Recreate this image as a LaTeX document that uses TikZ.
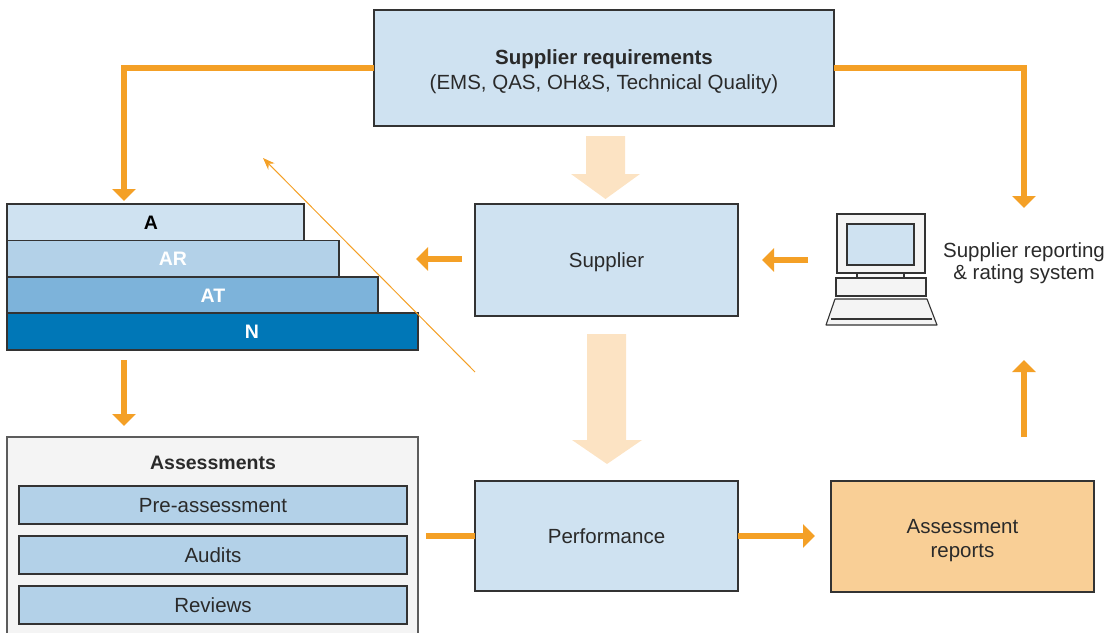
\documentclass[tikz,border=0pt]{standalone}
\usepackage{fontspec}
\setmainfont{Liberation Sans}
\usetikzlibrary{arrows.meta}
\definecolor{lb}{HTML}{CFE2F1}
\definecolor{mb}{HTML}{B3D1E8}
\definecolor{atb}{HTML}{7DB3DA}
\definecolor{nb}{HTML}{0077B7}
\definecolor{orng}{HTML}{F4A026}
\definecolor{palec}{HTML}{FCE3C3}
\definecolor{repc}{HTML}{F9CF96}
\definecolor{bgc}{HTML}{F4F4F4}
\definecolor{edge}{HTML}{333333}
\definecolor{txt}{HTML}{2A2A2A}
\begin{document}
\begin{tikzpicture}[x=1pt,y=-1pt,
 box/.style={draw=edge,line width=1.3pt,inner sep=0pt,outer sep=0pt,anchor=north west,text=txt,font=\fontsize{20.5}{24.5}\selectfont,align=center},
 sbox/.style={box,text height=14.8pt,text depth=0pt},
 lbl/.style={inner sep=0pt,text=txt,font=\fontsize{20.5}{24.5}\selectfont,align=center},
 slbl/.style={inner sep=0pt,font=\fontsize{19.5}{22}\selectfont\bfseries},
 oarrow/.style={draw=orng,line width=6pt,-{Triangle[width=23pt,length=12pt]}},
 oline/.style={draw=orng,line width=6pt},
 thinarrow/.style={draw=orng,line width=1pt,-{Stealth[length=12pt,width=9pt]}},
 pale/.style={fill=palec,draw=none},
 pcpart/.style={draw=edge,line width=1.1pt,fill=bgc,inner sep=0pt,outer sep=0pt,anchor=north west}]
\useasboundingbox (0,0) rectangle (1108,632);

% top box
\node[box,fill=lb,minimum width=460pt,minimum height=116pt,
  label={[lbl,yshift=-3.5pt]center:{\textbf{Supplier requirements}\\(EMS, QAS, OH\&S, Technical Quality)}}] (req) at (374,10) {};

% stack
\node[box,fill=lb,minimum width=297pt,minimum height=36.6pt] (A) at (7,204) {};
\node[box,fill=mb,minimum width=332pt,minimum height=36.4pt] (AR) at (7,240.6) {};
\node[box,fill=atb,minimum width=371pt,minimum height=36pt] (AT) at (7,277) {};
\node[box,fill=nb,minimum width=411pt,minimum height=37pt] (N) at (7,313) {};
\node[slbl,text=black] (At) at (151,222.5) {A};
\node[slbl,text=white] (ARt) at (173,259) {AR};
\node[slbl,text=white] (ATt) at (213,295.5) {AT};
\node[slbl,text=white] (Nt) at (252,331.5) {N};

% assessments
\node[box,fill=bgc,draw=edge!80,minimum width=411pt,minimum height=205pt] (asm) at (7,437) {};
\node[lbl,font=\fontsize{19.5}{22}\selectfont\bfseries] (asmt) at (213,463) {Assessments};
\node[sbox,fill=mb,minimum width=388pt,minimum height=38pt] (pre) at (19,486) {Pre-assessment};
\node[sbox,fill=mb,minimum width=388pt,minimum height=38pt] (aud) at (19,536) {Audits};
\node[sbox,fill=mb,minimum width=388pt,minimum height=38pt] (rev) at (19,586) {Reviews};

% centre boxes
\node[sbox,fill=lb,minimum width=263pt,minimum height=112pt] (sup) at (475,204) {Supplier};
\node[sbox,fill=lb,minimum width=263pt,minimum height=110pt] (perf) at (475,481) {Performance};
\node[box,fill=repc,minimum width=263pt,minimum height=111pt,
  label={[lbl,yshift=-4pt]center:{Assessment\\reports}}] (rep) at (831,481) {};

% computer
\node[pcpart,minimum width=88pt,minimum height=59pt] (mon) at (837,214) {};
\node[pcpart,fill=lb,minimum width=67pt,minimum height=41pt] (scr) at (847,224) {};
\node[pcpart,minimum width=47pt,minimum height=5pt] (neck) at (857,273) {};
\node[pcpart,minimum width=90pt,minimum height=18pt] (base) at (836,278) {};
\draw[draw=edge,line width=1.1pt,fill=bgc,line join=round] (835,299) -- (927,299) -- (937,325) -- (826,325) -- cycle;
\draw[draw=edge,line width=1.6pt] (831,319) -- (932,319);
\node[lbl,font=\fontsize{20.5}{21.5}\selectfont] (srs) at (1024,263) {Supplier reporting\\\& rating system};

% pale block arrows
\fill[pale] (586,136) -- (625,136) -- (625,174) -- (640,174) -- (605.5,199) -- (571,174) -- (586,174) -- cycle;
\fill[pale] (587,334) -- (626,334) -- (626,440) -- (642,440) -- (607,464) -- (572,440) -- (587,440) -- cycle;

% orange connectors
\draw[oarrow] (req.west) -| ([shift={(117pt,3pt)}]A.north west);
\coordinate (rs) at (1024,208);
\draw[oarrow] (req.east) -| (rs);
\draw[oarrow] ([xshift=-29pt]mon.west |- sup) -- ([xshift=24pt]sup.east);
\draw[oarrow] ([shift={(-13pt,1pt)}]sup.west) -- ([shift={(-59pt,1pt)}]sup.west);
\draw[oarrow] ([shift={(117pt,-10pt)}]N.south west) -- ([shift={(117pt,11pt)}]asm.north west);
\draw[oline] ([xshift=8pt]asm.east |- perf) -- (perf.west);
\draw[oarrow] (perf.east) -- ([xshift=-16pt]rep.west |- perf);
\coordinate (upt) at (1024,360);
\draw[oarrow] ([yshift=44pt]rep.north -| upt) -- (upt);

% thin diagonal arrow
\coordinate (d1) at (475,372);
\coordinate (d2) at (263,158);
\draw[thinarrow] (d1) -- (d2);
\end{tikzpicture}
\end{document}
